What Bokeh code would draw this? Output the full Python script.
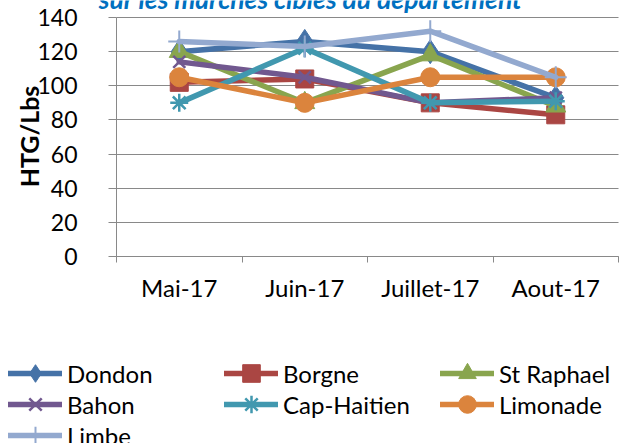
import math
from bokeh.plotting import figure
from bokeh.models import Range1d, FixedTicker, Legend, LegendItem, Label
from bokeh.embed import file_html
from bokeh.resources import INLINE

months = ["Mai-17", "Juin-17", "Juillet-17", "Aout-17"]
dondon = [120, 126, 120, 93]
borgne = [102, 104, 90, 83]
st_raphael = [120, 90, 118, 88]
bahon = [114, 105, 90, 93]
cap_haitien = [90, 122, 90, 91]
limonade = [105, 90, 105, 105]
limbe = [126, 123, 132, 105]
y_ticks = [0, 20, 40, 60, 80, 100, 120, 140]
title_text = "sur les marchés cibles du département"
y_label = "HTG/Lbs"

series = [
    ("Dondon", dondon, "#4572A7", "diamond", 24, 1),
    ("Borgne", borgne, "#AA4643", "square", 18, 1),
    ("St Raphael", st_raphael, "#89A54E", "triangle", 20, 1),
    ("Bahon", bahon, "#71588F", "x", 17, 2.5),
    ("Cap-Haitien", cap_haitien, "#4198AF", "asterisk", 18, 2.5),
    ("Limonade", limonade, "#DB843D", "circle", 19, 1),
    ("Limbe", limbe, "#93A9CF", "cross", 22, 2),
]

# ---- layout (pixels of the 635x443 canvas) ----
W, H = 635, 443
AX_L, AX_R = 116, 618      # plotting area left/right
AX_T, AX_B = 17, 256       # plotting area top (=140) / bottom (=0)
n = len(months)
Y_MAX = y_ticks[-1]
sx = n / (AX_R - AX_L)          # data per px (x)
sy = Y_MAX / (AX_B - AX_T)      # data per px (y)
def dx(px): return (px - AX_L) * sx
def dy(py): return (AX_B - py) * sy

xs = [i + 0.5 for i in range(n)]
FONT = "Lato"
GREY = "#898989"

p = figure(width=W, height=H, output_backend="svg", toolbar_location=None,
           x_range=Range1d(dx(0), dx(W)), y_range=Range1d(dy(H), dy(0)),
           min_border=0)
p.outline_line_color = None
p.background_fill_color = "white"
p.border_fill_color = "white"

# x axis pinned at y = 0
xa = p.xaxis[0]
xa.fixed_location = 0
xa.bounds = (0, n)
xa.ticker = FixedTicker(ticks=xs, minor_ticks=list(range(n + 1)))
xa.major_label_overrides = {x: m for x, m in zip(xs, months)}
xa.major_tick_line_color = None
xa.major_tick_out = 0
xa.major_tick_in = 0
xa.minor_tick_out = 6
xa.minor_tick_in = 0
xa.minor_tick_line_color = GREY
xa.axis_line_color = GREY
xa.major_label_text_font = FONT
xa.major_label_text_font_size = "24px"
xa.major_label_text_color = "black"
xa.major_label_standoff = 10
p.xgrid.visible = False

# y axis pinned at x = 0
ya = p.yaxis[0]
ya.fixed_location = 0
ya.bounds = (0, Y_MAX)
ya.ticker = FixedTicker(ticks=y_ticks)
ya.major_tick_out = 8
ya.major_tick_in = 0
ya.minor_tick_line_color = None
ya.major_tick_line_color = GREY
ya.axis_line_color = GREY
ya.major_label_text_font = FONT
ya.major_label_text_font_size = "23px"
ya.major_label_text_color = "black"
ya.major_label_standoff = 31
p.ygrid.ticker = FixedTicker(ticks=y_ticks)
p.ygrid.grid_line_color = GREY
p.ygrid.grid_line_width = 1
p.ygrid.bounds = (0, Y_MAX)
p.ygrid.cross_bounds = (0, n)

items = []
for name, vals, color, marker, size, lw in series:
    r1 = p.line(xs, vals, line_color=color, line_width=5.5, line_join="round",
                line_cap="round")
    r2 = p.scatter(xs, vals, marker=marker, size=size, fill_color=color,
                   line_color=color, line_width=lw)
    items.append(LegendItem(label=name, renderers=[r1, r2]))

# legend: three rows of three entries
GH = 44
row_centers = [373, 404, 435]
for r, yc in enumerate(row_centers):
    lg = Legend(items=items[3 * r:3 * r + 3], location=(8, H - (yc + GH / 2)),
                orientation="horizontal",
                glyph_width=54, glyph_height=GH, label_height=25, label_width=151,
                label_standoff=5, spacing=6, padding=0, margin=0,
                label_text_font=FONT, label_text_font_size="24px",
                label_text_color="black", border_line_color=None,
                background_fill_alpha=0)
    p.add_layout(lg, "center")

title = Label(x=dx(310), y=dy(-2), text=title_text,
              text_align="center", text_baseline="alphabetic", text_font=FONT,
              text_font_size="26.5px", text_font_style="bold italic",
              text_color="#0070C0")
p.add_layout(title)

ylab = Label(x=dx(28), y=dy(136), text=y_label, angle=math.pi / 2,
             text_align="center", text_baseline="middle", text_font=FONT,
             text_font_size="25px", text_font_style="bold", text_color="black")
p.add_layout(ylab)

open("out.html", "w").write(file_html(p, INLINE))
